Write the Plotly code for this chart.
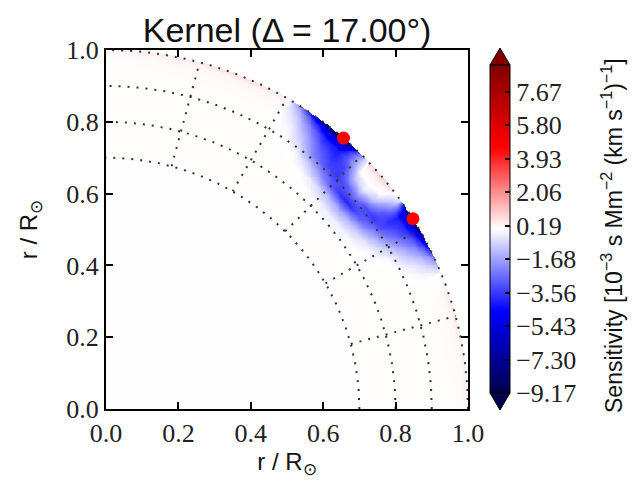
import numpy as np
import plotly.graph_objects as go

# ---------------- data ----------------
TITLE = "Kernel (\u0394 = 17.00\u00b0)"
AXIS_LABEL = "r / R<sub>\u2299</sub>"
CB_LABEL = "Sensitivity [10<sup>\u22123</sup> s Mm<sup>\u22122</sup> (km s<sup>\u22121</sup>)<sup>\u22121</sup>]"

AXIS_TICKS = [0.0, 0.2, 0.4, 0.6, 0.8, 1.0]
AXIS_TICK_LABELS = ["0.0", "0.2", "0.4", "0.6", "0.8", "1.0"]

CB_MIN, CB_MAX = -9.17, 9.17
CB_TICKS = [-9.17, -7.30, -5.43, -3.56, -1.68, 0.19, 2.06, 3.93, 5.80, 7.67]
CB_TICK_LABELS = ["\u22129.17", "\u22127.30", "\u22125.43", "\u22123.56", "\u22121.68",
                  "0.19", "2.06", "3.93", "5.80", "7.67"]

# observation points (angle from x axis in degrees, radius)
POINT_THETA_DEG = [49.0, 32.0]
POINT_R = [1.0, 1.0]

# dotted guide grid
GRID_RADII = [0.7, 0.8, 0.9, 1.0]
GRID_ANGLES_DEG = [15, 30, 45, 60, 75]

# kernel sensitivity read on a polar table (rows: radius, columns: angle)
THETA_DEG = [0, 12, 18, 22, 25, 28, 31, 33.5, 35.5, 38, 40.5, 43, 45.5, 48, 51, 54, 57, 60, 65, 75, 90]
R_LEVELS = [0.70, 0.78, 0.82, 0.85, 0.88, 0.91, 0.94, 0.965, 0.985, 1.00]
SENS = [
    [0.06, 0.06, 0.06, 0.06, 0.06, 0.06, 0.06, 0.06, 0.06, 0.06, 0.06, 0.06, 0.06, 0.06, 0.06, 0.06, 0.06, 0.06, 0.06, 0.06, 0.06],
    [0.06, 0.06, 0.06, 0.06, 0.06, 0.06, 0.06, 0.06, 0.06, 0.04, 0.03, 0.04, 0.06, 0.06, 0.06, 0.06, 0.06, 0.06, 0.06, 0.06, 0.06],
    [0.06, 0.06, 0.06, 0.06, 0.06, 0.06, 0.04, -0.05, -0.15, -0.25, -0.30, -0.25, -0.10, 0.03, 0.06, 0.06, 0.06, 0.06, 0.06, 0.06, 0.06],
    [0.06, 0.06, 0.06, 0.06, 0.06, 0.06, -0.10, -0.50, -0.90, -1.30, -1.60, -1.30, -0.90, -0.40, 0.00, 0.06, 0.06, 0.06, 0.06, 0.06, 0.06],
    [0.06, 0.06, 0.06, 0.06, 0.06, 0.00, -0.90, -1.70, -2.50, -3.20, -4.00, -3.60, -2.80, -1.80, -0.80, 0.00, 0.06, 0.06, 0.06, 0.06, 0.06],
    [0.06, 0.06, 0.06, 0.06, -0.10, -0.70, -2.00, -3.20, -3.60, -3.20, -2.20, -3.00, -3.60, -3.20, -2.20, -0.70, 0.00, 0.06, 0.06, 0.06, 0.06],
    [0.06, 0.06, 0.06, 0.03, -0.40, -1.60, -3.00, -3.80, -3.00, -1.20, -0.30, -1.10, -3.40, -3.80, -3.00, -1.50, -0.30, 0.06, 0.06, 0.06, 0.06],
    [0.06, 0.07, 0.08, 0.00, -0.90, -2.40, -3.80, -4.00, -2.00, -0.10, 0.10, -0.05, -2.40, -4.20, -4.00, -2.40, -0.80, 0.06, 0.08, 0.07, 0.06],
    [0.08, 0.12, 0.15, 0.00, -1.60, -3.80, -5.20, -5.20, -1.00, 0.20, 0.30, 0.20, -2.20, -5.60, -5.60, -3.80, -1.50, 0.10, 0.20, 0.15, 0.08],
    [0.20, 0.40, 0.50, 0.10, -2.50, -6.00, -9.00, -8.50, -0.50, 0.70, 0.90, 0.70, -3.00, -9.00, -9.00, -6.00, -2.50, 0.30, 0.60, 0.50, 0.20],
]
CORE_VALUE = 0.02  # r below the table

# matplotlib "seismic"
SEISMIC = [[0.0, "rgb(0,0,77)"], [0.25, "rgb(0,0,255)"], [0.5, "rgb(255,255,255)"],
           [0.75, "rgb(255,0,0)"], [1.0, "rgb(128,0,0)"]]

# ---------------- raster of the polar table ----------------
N = 400
xs = (np.arange(N) + 0.5) / N
X, Y = np.meshgrid(xs, xs)
R = np.hypot(X, Y)
T = np.degrees(np.arctan2(Y, X))
th = np.array(THETA_DEG, float)
rl = np.array(R_LEVELS, float)
Z = np.array(SENS, float)
i = np.clip(np.searchsorted(th, T, side="right") - 1, 0, len(th) - 2)
j = np.clip(np.searchsorted(rl, R, side="right") - 1, 0, len(rl) - 2)
wt = np.clip((T - th[i]) / (th[i + 1] - th[i]), 0, 1)
wr = np.clip((R - rl[j]) / (rl[j + 1] - rl[j]), 0, 1)
val = (1 - wr) * ((1 - wt) * Z[j, i] + wt * Z[j, i + 1]) + wr * ((1 - wt) * Z[j + 1, i] + wt * Z[j + 1, i + 1])
val = np.where(R < rl[0], CORE_VALUE, val)
val = np.where(R > 1.0, np.nan, val)

fig = go.Figure()
fig.add_trace(go.Heatmap(
    x=xs, y=xs, z=np.round(val, 3), zmin=CB_MIN, zmax=CB_MAX, colorscale=SEISMIC,
    zsmooth=False, hoverinfo="skip",
    colorbar=dict(
        thickness=20, thicknessmode="pixels", len=328, lenmode="pixels",
        x=1.0608, xanchor="left", xpad=0, y=0.5014, yanchor="middle", ypad=0,
        tickvals=CB_TICKS, ticktext=CB_TICK_LABELS, ticks="inside", ticklen=5,
        tickcolor="black", tickwidth=1.5,
        tickfont=dict(family="Liberation Serif", size=26, color="#222"),
        outlinewidth=1, outlinecolor="black",
    ),
))

# dotted guide grid
phi = np.radians(np.linspace(0, 90, 200))
for rr in GRID_RADII:
    fig.add_trace(go.Scatter(x=rr * np.cos(phi), y=rr * np.sin(phi), mode="lines",
                             line=dict(color="#333", width=2, dash="2px,7px"),
                             hoverinfo="skip", showlegend=False))
for a in GRID_ANGLES_DEG:
    ar = np.radians(a)
    rr = np.array([GRID_RADII[0], GRID_RADII[-1]])
    fig.add_trace(go.Scatter(x=rr * np.cos(ar), y=rr * np.sin(ar), mode="lines",
                             line=dict(color="#333", width=2, dash="2px,7px"),
                             hoverinfo="skip", showlegend=False))

# observation points
pt = np.radians(POINT_THETA_DEG)
fig.add_trace(go.Scatter(x=np.array(POINT_R) * np.cos(pt), y=np.array(POINT_R) * np.sin(pt),
                         mode="markers", marker=dict(color="#ff0000", size=13),
                         hoverinfo="skip", showlegend=False, cliponaxis=False))

axis_common = dict(
    range=[0, 1], tickvals=AXIS_TICKS, ticktext=AXIS_TICK_LABELS,
    ticks="inside", ticklen=7, tickwidth=1.5, tickcolor="black",
    showline=True, linewidth=2, linecolor="black", mirror="ticks",
    showgrid=False, zeroline=False, fixedrange=True,
    tickfont=dict(family="Liberation Serif", size=26, color="#222"),
)
fig.update_xaxes(**axis_common, title=dict(text=AXIS_LABEL, standoff=6,
                 font=dict(family="Liberation Sans", size=24, color="#111")))
fig.update_yaxes(**axis_common, title=dict(text=AXIS_LABEL, standoff=22,
                 font=dict(family="Liberation Sans", size=24, color="#111")))

# colorbar title as a rotated annotation
fig.add_annotation(text=CB_LABEL, xref="paper", yref="paper",
                   x=(612 - 106) / 362, y=(409 - 236) / 359, xanchor="center", yanchor="middle",
                   textangle=-90, showarrow=False,
                   font=dict(family="Liberation Sans", size=23, color="#111"))

# colorbar extension triangles
fig.add_shape(type="path", xref="paper", yref="paper",
              path="M 1.0608 0.958 L 1.1160 0.958 L 1.0884 1.0056 Z",
              fillcolor="rgb(128,0,0)", line=dict(color="black", width=1))
fig.add_shape(type="path", xref="paper", yref="paper",
              path="M 1.0608 0.0446 L 1.1160 0.0446 L 1.0884 -0.0028 Z",
              fillcolor="rgb(0,0,77)", line=dict(color="black", width=1))

fig.update_layout(
    width=638, height=485,
    margin=dict(l=106, r=170, t=50, b=76),
    paper_bgcolor="white", plot_bgcolor="white",
    title=dict(text=TITLE, x=0.45, xanchor="center", y=1 - 30 / 485, yanchor="middle",
               font=dict(family="Liberation Sans", size=34, color="#111")),
    showlegend=False,
)

fig.write_html("out.html")
